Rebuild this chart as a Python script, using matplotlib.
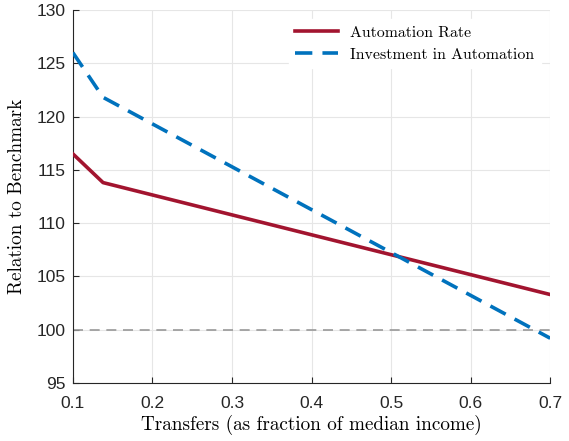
import matplotlib
matplotlib.use("Agg")
import matplotlib.pyplot as plt

# transfers (fraction of median income) and relation to benchmark
transfers = [0.1, 0.138, 0.7]
automation_rate = [116.5, 113.8, 103.3]
investment = [126.0, 121.8, 99.2]
benchmark = 100

red = (0.635, 0.078, 0.184)
blue = (0.0, 0.447, 0.741)

fig = plt.figure(figsize=(5.69, 4.41), dpi=100)
ax = fig.add_axes([0.128, 0.1315, 0.839, 0.846])

ax.axhline(benchmark, color='0.6', linestyle=(0, (6, 4)), linewidth=1.2, zorder=1)
ax.plot(transfers, automation_rate, color=red, linewidth=2.6, label='Automation Rate', zorder=3)
ax.plot(transfers, investment, color=blue, linewidth=2.6, linestyle=(0, (4.8, 2.8)),
        label='Investment in Automation', zorder=3)

ax.set_xlim(0.1, 0.7)
ax.set_ylim(95, 130)
ax.set_xticks([0.1, 0.2, 0.3, 0.4, 0.5, 0.6, 0.7])
ax.set_yticks(range(95, 131, 5))
ax.grid(True, color='0.9', linewidth=0.8)
ax.set_axisbelow(True)
for s in ['top', 'right']:
    ax.spines[s].set_visible(False)
for s in ['left', 'bottom']:
    ax.spines[s].set_color('0.15')
    ax.spines[s].set_linewidth(0.8)
ax.tick_params(direction='in', length=4, width=0.8, color='0.15', labelcolor='0.15')
ax.tick_params(axis='x', pad=9)
ax.tick_params(axis='y', pad=5)
for lab in ax.get_xticklabels() + ax.get_yticklabels():
    lab.set_fontfamily('Liberation Sans')
    lab.set_fontsize(12.5)

ax.set_xlabel('Transfers (as fraction of median income)', fontfamily='cmr10', fontsize=13.8, labelpad=3)
ax.set_ylabel('Relation to Benchmark', fontfamily='cmr10', fontsize=13.8, labelpad=8)

leg = ax.legend(loc='upper right', prop={'family': 'cmr10', 'size': 11.4}, frameon=True,
                fancybox=False, edgecolor='white', framealpha=1, handlelength=2.7,
                borderaxespad=0.6)

fig.savefig('out.png', dpi=100)
